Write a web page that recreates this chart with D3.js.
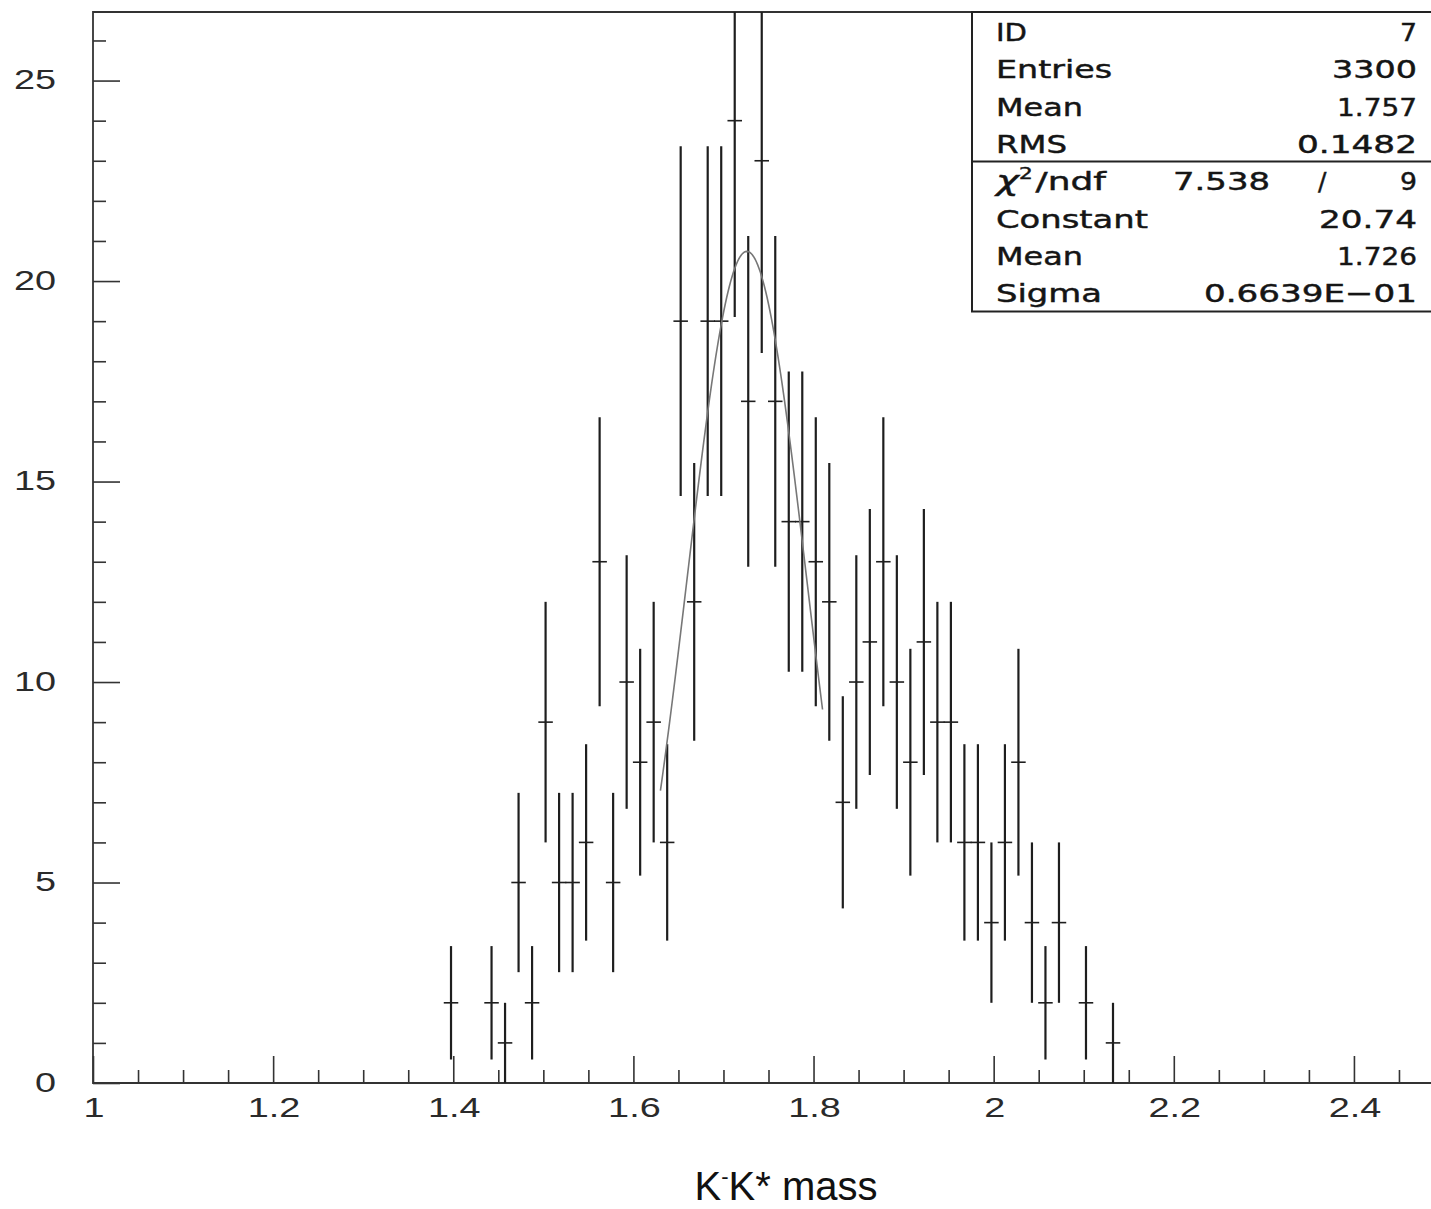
<!DOCTYPE html>
<html><head><meta charset="utf-8">
<script src="https://cdn.jsdelivr.net/npm/d3@7"></script>
<style>html,body{margin:0;padding:0;background:#fff;overflow:hidden}</style>
</head><body>
<svg id="c" width="1431" height="1209"></svg>
<script>
// Histogram definition
const xMin = 1, xMax = 2.5, nBins = 100;
const counts = [
  0,0,0,0,0,0,0,0,0,0, 0,0,0,0,0,0,0,0,0,0, 0,0,0,0,0,0,
  2,0,0,2,1,5,2,9,5,5,
  6,13,5,10,8,9,6,19,12,19,
  19,24,17,23,17,14,14,13,12,7,
  10,11,13,10,8,11,9,9,6,6,
  4,6,8,4,2,4,0,2,0,1,
  0,0,0,0,0,0,0,0,0,0, 0,0,0,0,0,0,0,0,0,0, 0,0,0,0
];
// Gaussian fit parameters and fitted range
const fitParams = {constant: 20.74, mean: 1.726, sigma: 0.06639};
const fitRange = [1.63, 1.81];
// Axis ticks
const xMajorTicks = [1, 1.2, 1.4, 1.6, 1.8, 2, 2.2, 2.4];
const xTickLabels = ["1", "1.2", "1.4", "1.6", "1.8", "2", "2.2", "2.4"];
const yMajorTicks = [0, 5, 10, 15, 20, 25];
const yTickLabels = ["0", "5", "10", "15", "20", "25"];
// Statistics box
const statsLabels = ["ID", "Entries", "Mean", "RMS"];
const statsValues = ["7", "3300", "1.757", "0.1482"];
const fitLabels = ["χ²/ndf", "Constant", "Mean", "Sigma"];
const fitValues = ["9", "20.74", "1.726", "0.6639E\u221201"];
const chi2Value = "7.538";
const xTitle = ["K", "-", "K* mass"];

const svg = d3.select("#c");
const L = 93, T = 12, B = 1083, R = 1444;
const x = d3.scaleLinear().domain([xMin, xMax]).range([L, R]);
const y = d3.scaleLinear().domain([0, 26.71]).range([B, T]);
const binW = (xMax - xMin) / nBins;

svg.append("rect").attr("width", 1431).attr("height", 1209).attr("fill", "#fff");
svg.append("defs").append("clipPath").attr("id", "pc")
  .append("rect").attr("x", L).attr("y", T).attr("width", R - L).attr("height", B - T);

const axisCol = "#333";
const xMinor = d3.range(0, 31).map(i => +(xMin + i * 0.05).toFixed(3)).filter(v => !xMajorTicks.some(m => Math.abs(m - v) < 1e-6));
const yMinor = d3.range(0, 27).filter(v => v % 5 !== 0);

function styleAxis(g) {
  g.select(".domain").remove();
  g.selectAll("line").attr("stroke", axisCol).attr("stroke-width", 1.6);
  g.selectAll("text").remove();
}
svg.append("g").attr("transform", `translate(0,${B})`)
  .call(d3.axisBottom(x).tickValues(xMajorTicks).tickSize(-27).tickSizeOuter(0)).call(styleAxis);
svg.append("g").attr("transform", `translate(0,${B})`)
  .call(d3.axisBottom(x).tickValues(xMinor).tickSize(-13).tickSizeOuter(0)).call(styleAxis);
svg.append("g").attr("transform", `translate(${L},0)`)
  .call(d3.axisLeft(y).tickValues(yMajorTicks).tickSize(-27).tickSizeOuter(0)).call(styleAxis);
svg.append("g").attr("transform", `translate(${L},0)`)
  .call(d3.axisLeft(y).tickValues(yMinor).tickSize(-13).tickSizeOuter(0)).call(styleAxis);

// frame
svg.append("path").attr("d", `M${R},${B}H${L}V${T}H${R}`)
  .attr("fill", "none").attr("stroke", axisCol).attr("stroke-width", 1.8);

// tick labels (stretched font)
const stretch = 1.35;
function stretchedText(txt, px, baseline, anchor, size, family) {
  const t = svg.append("text").attr("x", 0).attr("y", baseline)
    .attr("font-family", family).attr("font-size", size).attr("fill", "#2a2a2a").text(txt);
  const w = t.node().getComputedTextLength() * stretch;
  let x0 = anchor === "middle" ? px - w / 2 : anchor === "end" ? px - w : px;
  t.attr("x", x0).attr("textLength", w).attr("lengthAdjust", "spacingAndGlyphs");
  return t;
}
xMajorTicks.forEach((v, i) => stretchedText(xTickLabels[i], x(v) + 1, 1117, "middle", 28, "Liberation Sans, Arial, sans-serif"));
yMajorTicks.forEach((v, i) => stretchedText(yTickLabels[i], 56, y(v) + 8.5, "end", 28, "Liberation Sans, Arial, sans-serif"));

// data: error bars
const data = counts.map((c, i) => ({c, xc: xMin + binW * (i + 0.5)})).filter(d => d.c > 0);
const dg = svg.append("g").attr("clip-path", "url(#pc)");
dg.selectAll("line.v").data(data).join("line").attr("class", "v")
  .attr("x1", d => x(d.xc)).attr("x2", d => x(d.xc))
  .attr("y1", d => y(d.c + Math.sqrt(d.c))).attr("y2", d => y(d.c - Math.sqrt(d.c)))
  .attr("stroke", "#1e1e1e").attr("stroke-width", 2.2);
dg.selectAll("line.h").data(data).join("line").attr("class", "h")
  .attr("x1", d => x(d.xc - binW / 2) - 0.5).attr("x2", d => x(d.xc + binW / 2) + 0.5)
  .attr("y1", d => y(d.c)).attr("y2", d => y(d.c))
  .attr("stroke", "#1e1e1e").attr("stroke-width", 1.6);

// fit curve
const gauss = v => fitParams.constant * Math.exp(-0.5 * Math.pow((v - fitParams.mean) / fitParams.sigma, 2));
const fx = d3.range(0, 121).map(i => fitRange[0] + (fitRange[1] - fitRange[0]) * i / 120);
dg.append("path").datum(fx)
  .attr("d", d3.line().x(v => x(v)).y(v => y(gauss(v))))
  .attr("fill", "none").attr("stroke", "#777").attr("stroke-width", 1.6);

// stats box
const boxL = 972, boxT = 12, boxMid = 161.5, boxB = 311.5;
svg.append("rect").attr("x", boxL).attr("y", boxT).attr("width", 1500 - boxL).attr("height", boxB - boxT)
  .attr("fill", "#fff").attr("stroke", "#222").attr("stroke-width", 2);
svg.append("line").attr("x1", boxL).attr("x2", 1431).attr("y1", boxMid).attr("y2", boxMid)
  .attr("stroke", "#222").attr("stroke-width", 2);

const sFont = "DejaVu Sans, sans-serif";
function fitText(txt, x0, baseline, width) {
  return svg.append("text").attr("x", x0).attr("y", baseline)
    .attr("font-family", sFont).attr("font-size", 25).attr("fill", "#151515")
    .attr("stroke", "#151515").attr("stroke-width", 0.45)
    .attr("textLength", width).attr("lengthAdjust", "spacingAndGlyphs").text(txt);
}
const baselines = [41, 78, 116, 153, 190, 228, 265, 302];
const labelW = [31, 116, 87, 71, 110, 152, 87, 106];
const valueW = [17, 85, 80, 120, 17, 98, 80, 213];
const rightEdge = 1417, leftEdge = 996;
statsLabels.forEach((s, i) => fitText(s, leftEdge, baselines[i], labelW[i]));
statsValues.forEach((s, i) => fitText(s, rightEdge - valueW[i], baselines[i], valueW[i]));
fitLabels.forEach((s, i) => {
  if (i === 0) {
    const t = svg.append("text").attr("x", leftEdge).attr("y", baselines[4])
      .attr("font-family", sFont).attr("font-size", 25).attr("fill", "#151515")
      .attr("stroke", "#151515").attr("stroke-width", 0.45);
    t.append("tspan").text("χ").attr("font-size", 27).attr("font-style", "italic");
    t.append("tspan").text("2").attr("font-size", 15).attr("dy", -11);
    t.append("tspan").text("/ndf").attr("dy", 11).attr("dx", 2);
    t.attr("textLength", labelW[4]).attr("lengthAdjust", "spacingAndGlyphs");
  } else {
    fitText(s, leftEdge, baselines[4 + i], labelW[4 + i]);
  }
});
fitValues.forEach((s, i) => fitText(s, rightEdge - valueW[4 + i], baselines[4 + i], valueW[4 + i]));
fitText(chi2Value, 1173, baselines[4], 97);
svg.append("text").attr("x", 1318).attr("y", baselines[4])
  .attr("font-family", sFont).attr("font-size", 25).attr("fill", "#151515")
  .attr("stroke", "#151515").attr("stroke-width", 0.45).text("/");

// x title as separate pieces
const tFam = "Liberation Sans, Arial, sans-serif";
const tBase = 1200;
const p1 = svg.append("text").attr("y", tBase).attr("font-family", tFam).attr("font-size", 40).attr("fill", "#111").text(xTitle[0]);
const p2 = svg.append("text").attr("y", tBase - 16).attr("font-family", tFam).attr("font-size", 22).attr("fill", "#111").text(xTitle[1]);
const p3 = svg.append("text").attr("y", tBase).attr("font-family", tFam).attr("font-size", 40).attr("fill", "#111").text(xTitle[2]);
const w1 = p1.node().getComputedTextLength(), w2 = p2.node().getComputedTextLength(), w3 = p3.node().getComputedTextLength();
const tx0 = 786 - (w1 + w2 + w3) / 2;
p1.attr("x", tx0); p2.attr("x", tx0 + w1); p3.attr("x", tx0 + w1 + w2);
</script>
</body></html>
